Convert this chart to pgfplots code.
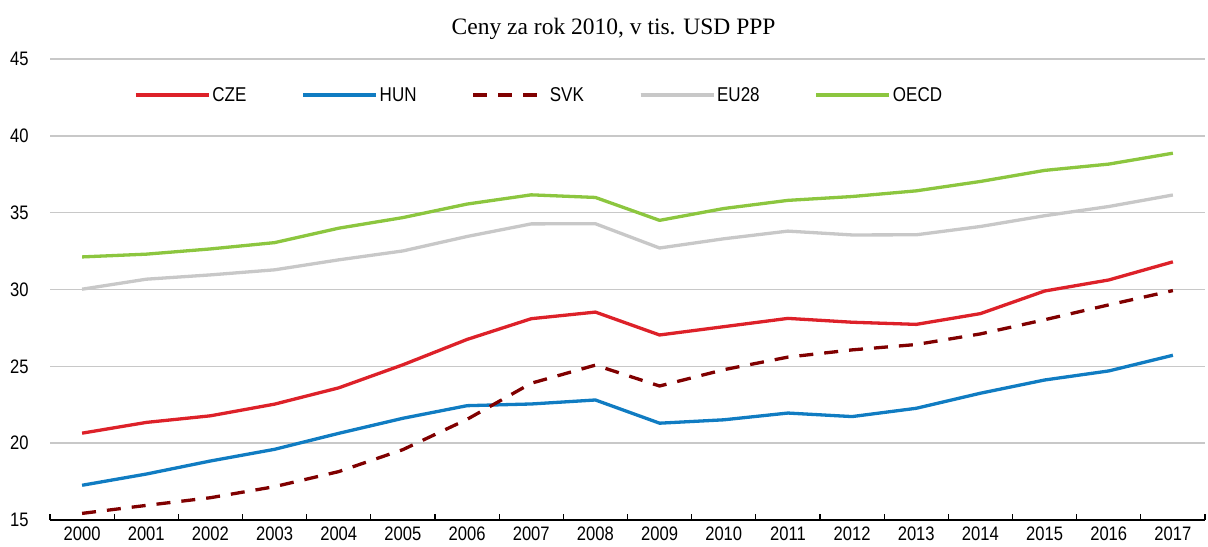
\documentclass[border=0pt]{standalone}
\usepackage{fontspec}
\setmainfont{Liberation Sans}[FakeStretch=0.85]
\newfontfamily\titlefont{Liberation Serif}
\usepackage{pgfplots}
\pgfplotsset{compat=1.18}
\definecolor{cze}{RGB}{221,33,41}
\definecolor{hun}{RGB}{16,124,194}
\definecolor{svk}{RGB}{128,0,0}
\definecolor{eu}{RGB}{200,200,200}
\definecolor{oecd}{RGB}{140,198,63}
\definecolor{gridc}{RGB}{200,200,200}
\pgfplotstableread{
x CZE HUN SVK EU OECD
0 20.65 17.26 15.43 30.02 32.12
1 21.35 17.99 15.95 30.67 32.30
2 21.78 18.84 16.45 30.95 32.64
3 22.54 19.60 17.17 31.28 33.05
4 23.60 20.64 18.15 31.93 33.99
5 25.10 21.62 19.58 32.51 34.68
6 26.75 22.44 21.55 33.45 35.56
7 28.10 22.55 23.90 34.27 36.16
8 28.53 22.81 25.08 34.28 35.99
9 27.04 21.30 23.72 32.70 34.50
10 27.58 21.52 24.78 33.30 35.27
11 28.12 21.96 25.60 33.80 35.80
12 27.87 21.73 26.07 33.55 36.05
13 27.73 22.27 26.42 33.56 36.42
14 28.43 23.25 27.11 34.10 37.03
15 29.90 24.11 28.03 34.80 37.75
16 30.62 24.70 29.00 35.40 38.16
17 31.80 25.72 29.93 36.15 38.87
}\data
\begin{document}
\begin{tikzpicture}
\path[use as bounding box] (-50bp,-27bp) rectangle (1158bp,520bp);
\begin{axis}[
  at={(0,0)}, anchor=south west,
  scale only axis, width=1155bp, height=461bp,
  xmin=-0.5, xmax=17.5, ymin=15, ymax=45,
  axis x line*=bottom, axis y line*=left,
  y axis line style={draw=none},
  x axis line style={black, line width=1.5bp},
  xtick={0,...,17},
  xticklabels={2000,2001,2002,2003,2004,2005,2006,2007,2008,2009,2010,2011,2012,2013,2014,2015,2016,2017},
  ytick={15,20,...,45},
  major tick length=0pt,
  tick style={black, line width=1.3bp},
  extra x ticks={-0.5,0.5,...,17.5},
  extra x tick labels={},
  extra x tick style={major tick length=6bp, tick align=inside},
  ymajorgrids=true,
  grid style={gridc, line width=1.5bp},
  /pgf/number format/assume math mode=true,
  tick label style={font=\fontsize{19.5bp}{22bp}\selectfont},
  xticklabel style={yshift=-3bp},
  yticklabel style={xshift=-18bp},
  legend columns=5,
  legend cell align=left,
  legend style={at={(0.0727,0.922)}, anchor=west, draw=none, fill=none, inner sep=0pt,
    font=\fontsize{20bp}{22bp}\selectfont,
    /tikz/every even column/.append style={column sep=53bp}},
  legend image code/.code={\path (0bp,0bp) -- (73bp,0bp);\draw[#1] (0bp,0bp) -- (70bp,0bp);},
  every axis plot/.append style={line width=3.3bp, line join=round},
  clip=false,
]
\addplot[cze] table[x=x,y=CZE]{\data};
\addlegendentry{CZE}
\addplot[hun] table[x=x,y=HUN]{\data};
\addlegendentry{HUN}
\addplot[svk, dash pattern=on 14bp off 11bp] table[x=x,y=SVK]{\data};
\addlegendentry{SVK}
\addplot[eu] table[x=x,y=EU]{\data};
\addlegendentry{EU28}
\addplot[oecd] table[x=x,y=OECD]{\data};
\addlegendentry{OECD}
\node[anchor=base, font=\titlefont\fontsize{23.5bp}{26bp}\selectfont] at ([yshift=24bp]axis description cs:0.488,1) {Ceny za rok 2010, v tis. USD PPP};
\end{axis}
\end{tikzpicture}
\end{document}
